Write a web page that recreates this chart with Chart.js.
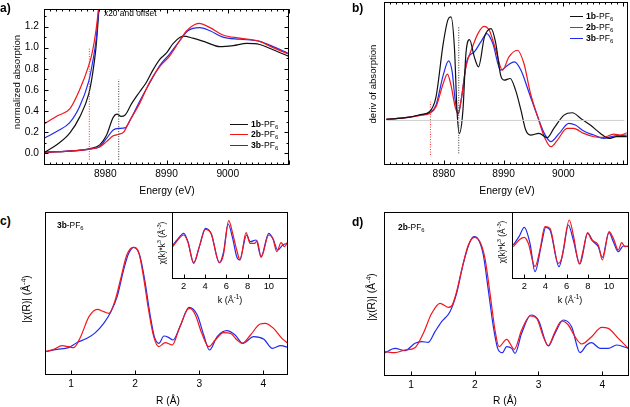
<!DOCTYPE html>
<html>
<head>
<meta charset="utf-8">
<script src="https://cdn.jsdelivr.net/npm/chart.js@4.4.1/dist/chart.umd.min.js"></script>
<style>
  body { margin: 0; background: #fff; }
  #fig { position: relative; width: 630px; height: 407px; overflow: hidden;
         font-family: "Liberation Sans", Arial, sans-serif; color: #000; }
  canvas { position: absolute; }
  .t { position: absolute; white-space: nowrap; line-height: 1; transform: translateY(-50%); }
  .c { transform: translate(-50%, -50%); }
  .r { transform: translate(-50%, -50%) rotate(-90deg); }
  sub, sup { font-size: 70%; line-height: 0; }
  .lg { position: absolute; width: 18px; height: 0; border-top: 1.4px solid; }
</style>
</head>
<body>
<div id="fig">
  <canvas id="chA"></canvas>
  <canvas id="chB"></canvas>
  <canvas id="chC"></canvas>
  <canvas id="chD"></canvas>
  <canvas id="chCi"></canvas>
  <canvas id="chDi"></canvas>

  <div class="t" style="left:0;top:8px;font-size:12px;font-weight:bold">a)</div>
  <div class="t" style="left:352px;top:8px;font-size:12px;font-weight:bold">b)</div>
  <div class="t" style="left:0;top:221px;font-size:12px;font-weight:bold">c)</div>
  <div class="t" style="left:352px;top:222px;font-size:12px;font-weight:bold">d)</div>

  <div class="t r" style="left:17px;top:82px;font-size:9.6px">normalized absorption</div>
  <div class="t r" style="left:373px;top:84px;font-size:9.6px">deriv of absorption</div>
  <div class="t r" style="left:27px;top:299px;font-size:10.2px">|χ(R)| (Å<sup>-4</sup>)</div>
  <div class="t r" style="left:372px;top:297px;font-size:10.2px">|χ(R)| (Å<sup>-4</sup>)</div>
  <div class="t r" style="left:163px;top:243px;font-size:8.2px">χ(k)*k<sup>3</sup> (Å<sup>-3</sup>)</div>
  <div class="t r" style="left:503px;top:242px;font-size:8.2px">χ(k)*k<sup>3</sup> (Å<sup>-3</sup>)</div>

  <div class="t c" style="left:167px;top:191px;font-size:10.4px">Energy (eV)</div>
  <div class="t c" style="left:507px;top:191px;font-size:10.4px">Energy (eV)</div>
  <div class="t c" style="left:168px;top:401px;font-size:10.2px">R (Å)</div>
  <div class="t c" style="left:505px;top:401px;font-size:10.2px">R (Å)</div>
  <div class="t c" style="left:230px;top:300px;font-size:9px">k (Å<sup>-1</sup>)</div>
  <div class="t c" style="left:570px;top:300px;font-size:9px">k (Å<sup>-1</sup>)</div>

  <div class="t" style="left:104px;top:13px;font-size:8.4px">x20 and offset</div>
  <div class="t" style="left:57px;top:225px;font-size:8.4px"><b>3b</b>-PF<sub>6</sub></div>
  <div class="t" style="left:398px;top:227px;font-size:8.4px"><b>2b</b>-PF<sub>6</sub></div>

  <div class="lg" style="left:230px;top:124px;border-color:#111"></div>
  <div class="t" style="left:251px;top:124px;font-size:8.6px"><b>1b</b>-PF<sub>6</sub></div>
  <div class="lg" style="left:230px;top:134px;border-color:#f2161b"></div>
  <div class="t" style="left:251px;top:134px;font-size:8.6px"><b>2b</b>-PF<sub>6</sub></div>
  <div class="lg" style="left:230px;top:145px;border-color:#1f2cf0"></div>
  <div class="t" style="left:251px;top:145px;font-size:8.6px"><b>3b</b>-PF<sub>6</sub></div>

  <div class="lg" style="left:570px;top:16px;border-color:#111;width:13px"></div>
  <div class="t" style="left:586px;top:16px;font-size:8.6px"><b>1b</b>-PF<sub>6</sub></div>
  <div class="lg" style="left:570px;top:27px;border-color:#f2161b;width:13px"></div>
  <div class="t" style="left:586px;top:27px;font-size:8.6px"><b>2b</b>-PF<sub>6</sub></div>
  <div class="lg" style="left:570px;top:38px;border-color:#1f2cf0;width:13px"></div>
  <div class="t" style="left:586px;top:38px;font-size:8.6px"><b>3b</b>-PF<sub>6</sub></div>
</div>
<script>
const BLACK = '#111', RED = '#f2161b', BLUE = '#1f2cf0';
const FONT = '"Liberation Sans", Arial, sans-serif';

// ---- panel a: normalized absorption ----
const aXTicks = ['8980', '8990', '9000'];
const aYTicks = ['0.0', '0.2', '0.4', '0.6', '0.8', '1.0', '1.2'];
const aE_1b = [8970.1, 8972, 8974, 8976, 8977.5, 8979.1, 8980.2, 8981.3, 8981.9, 8982.6, 8983.2, 8984.3, 8985.6, 8986.7, 8987.8, 8988.9, 8990.0, 8991.1, 8992.7, 8994.3, 8996.5, 8998.7, 9000.9, 9003.1, 9005.2, 9007.4, 9009.9];
const aY_1b = [0.01, 0.015, 0.02, 0.03, 0.045, 0.08, 0.17, 0.34, 0.37, 0.35, 0.36, 0.47, 0.58, 0.67, 0.79, 0.89, 0.95, 1.04, 1.11, 1.09, 1.05, 1.01, 1.02, 1.04, 1.03, 0.98, 0.92];
const aE_2b = [8970.1, 8974, 8977.5, 8979.1, 8980.2, 8981.3, 8982.2, 8983.0, 8984.0, 8985.6, 8987.3, 8988.9, 8990.5, 8992.2, 8993.3, 8995.3, 8997.1, 8999.2, 9002.0, 9005.2, 9007.4, 9009.9];
const aY_2b = [0.01, 0.02, 0.04, 0.06, 0.11, 0.165, 0.18, 0.20, 0.31, 0.47, 0.68, 0.82, 0.92, 1.07, 1.16, 1.23, 1.19, 1.12, 1.09, 1.06, 1.00, 0.94];
const aE_3b = [8970.1, 8974, 8977.5, 8979.1, 8980.2, 8981.3, 8982.2, 8983.2, 8984.3, 8985.6, 8987.3, 8988.9, 8990.5, 8992.2, 8993.5, 8995.4, 8997.1, 8999.2, 9002.0, 9005.2, 9007.4, 9009.9];
const aY_3b = [0.01, 0.02, 0.04, 0.065, 0.14, 0.22, 0.235, 0.24, 0.34, 0.49, 0.67, 0.83, 0.94, 1.07, 1.16, 1.19, 1.16, 1.10, 1.08, 1.06, 1.01, 0.945];
// pre-edge x20 and offset
const aEx = [8970.1, 8972.2, 8974.2, 8975.8, 8977.3, 8977.9, 8978.5, 8978.9, 8979.2];
const aYx_1b = [0.01, 0.085, 0.19, 0.34, 0.56, 0.74, 1.01, 1.31, 1.55];
const aYx_2b = [0.28, 0.355, 0.42, 0.60, 0.83, 0.96, 1.17, 1.37, 1.55];
const aYx_3b = [0.145, 0.21, 0.29, 0.44, 0.68, 0.85, 1.07, 1.34, 1.55];
const aMarkRed = [8977.4, -0.06, 1.0];
const aMarkBlack = [8982.2, -0.06, 0.70];

// ---- panel b: derivative ----
const bXTicks = ['8980', '8990', '9000'];
const bE_1b = [8970.4, 8974.0, 8976.3, 8977.6, 8978.7, 8979.9, 8980.7, 8981.2, 8981.8, 8982.2, 8982.6, 8983.2, 8983.7, 8984.3, 8985.1, 8985.8, 8986.8, 8987.9, 8988.7, 8989.5, 8990.1, 8991.1, 8992.0, 8992.9, 8993.7, 8994.5, 8995.9, 8997.3, 8998.4, 9000.1, 9001.5, 9002.9, 9004.5, 9006.2, 9007.6, 9008.9, 9010.6];
const bY_1b = [0.03, 0.09, 0.18, 0.26, 0.71, 2.31, 3.03, 3.11, 2.11, 0.31, -0.39, 0.31, 2.01, 2.43, 1.91, 1.61, 2.51, 2.76, 2.31, 1.36, 1.21, 1.26, 0.91, 0.31, -0.29, -0.44, -0.39, -0.52, -0.24, 0.16, 0.23, 0.06, -0.14, -0.39, -0.54, -0.49, -0.49];
const bE_2b = [8970.4, 8974.0, 8976.3, 8977.6, 8978.7, 8979.9, 8980.6, 8981.2, 8981.9, 8982.4, 8982.9, 8983.7, 8984.8, 8985.7, 8986.7, 8987.6, 8988.7, 8989.8, 8990.9, 8992.3, 8993.4, 8994.5, 8995.7, 8996.8, 8997.9, 8999.0, 9000.6, 9001.7, 9003.4, 9005.1, 9006.7, 9008.4, 9009.5, 9010.6];
const bY_2b = [0.03, 0.09, 0.16, 0.21, 0.41, 1.11, 1.39, 1.06, 0.41, 0.21, 0.61, 1.61, 2.21, 2.61, 2.83, 2.71, 2.11, 1.51, 1.91, 2.11, 1.71, 0.81, 0.11, -0.49, -0.79, -0.59, -0.24, -0.24, -0.39, -0.49, -0.51, -0.41, -0.44, -0.37];
const bE_3b = [8970.4, 8974.0, 8976.3, 8977.6, 8978.7, 8979.9, 8980.8, 8981.4, 8981.9, 8982.4, 8982.9, 8983.9, 8985.1, 8986.2, 8987.2, 8988.2, 8989.5, 8990.7, 8991.8, 8992.9, 8994.3, 8995.7, 8996.8, 8997.9, 8999.3, 9000.9, 9002.0, 9003.4, 9005.1, 9006.7, 9008.4, 9010.6];
const bY_3b = [0.03, 0.09, 0.17, 0.23, 0.46, 1.36, 1.79, 1.46, 0.61, 0.19, 0.61, 1.81, 2.06, 2.36, 2.61, 2.31, 1.51, 1.66, 1.76, 1.51, 0.81, 0.11, -0.39, -0.64, -0.39, -0.09, -0.14, -0.32, -0.44, -0.54, -0.47, -0.44];
const bBase = [8970.4, 9010.2];
const bMarkRed = [8977.76, -1.04, 0.56];
const bMarkBlack = [8982.5, -0.99, 2.81];

// ---- panel c: 3b-PF6 |chi(R)| ----
const rTicks = ['1', '2', '3', '4'];
const cR_red = [0.6, 0.73, 0.86, 0.96, 1.04, 1.15, 1.28, 1.41, 1.51, 1.59, 1.69, 1.77, 1.87, 1.97, 2.06, 2.13, 2.21, 2.29, 2.37, 2.47, 2.58, 2.68, 2.81, 2.86, 2.94, 3.04, 3.15, 3.25, 3.38, 3.49, 3.59, 3.67, 3.80, 3.95, 4.03, 4.16, 4.29, 4.40];
const cY_red = [0.70, 0.77, 0.88, 0.85, 0.82, 1.15, 1.75, 1.97, 1.90, 1.85, 2.25, 2.85, 3.60, 3.83, 3.65, 2.95, 1.95, 1.15, 0.85, 0.97, 0.90, 1.35, 1.95, 2.00, 1.80, 1.25, 0.85, 1.05, 1.27, 1.25, 1.05, 0.95, 1.20, 1.53, 1.55, 1.40, 1.10, 0.93];
const cR_blue = [0.6, 0.78, 0.96, 1.09, 1.25, 1.38, 1.51, 1.61, 1.72, 1.82, 1.90, 1.98, 2.07, 2.15, 2.23, 2.30, 2.37, 2.45, 2.52, 2.59, 2.71, 2.84, 2.97, 3.07, 3.16, 3.28, 3.43, 3.56, 3.68, 3.85, 4.01, 4.14, 4.27, 4.40];
const cY_blue = [0.70, 0.77, 0.82, 0.97, 1.10, 1.27, 1.55, 1.85, 2.35, 3.15, 3.65, 3.83, 3.60, 2.85, 1.85, 1.15, 0.95, 1.17, 1.13, 1.05, 1.50, 2.03, 1.80, 1.20, 0.75, 1.15, 1.33, 1.20, 0.95, 1.15, 1.07, 0.80, 0.88, 0.82];

// ---- panel d: 2b-PF6 |chi(R)| ----
const dR_red = [0.593, 0.750, 0.906, 1.063, 1.194, 1.325, 1.455, 1.586, 1.638, 1.716, 1.795, 1.900, 1.994, 2.082, 2.161, 2.240, 2.318, 2.381, 2.501, 2.621, 2.736, 2.867, 2.971, 3.076, 3.154, 3.259, 3.363, 3.468, 3.572, 3.677, 3.834, 3.991, 4.095, 4.252, 4.409];
const dY_red = [0.72, 0.69, 0.77, 0.84, 1.27, 1.87, 2.17, 2.05, 2.09, 2.52, 3.17, 3.92, 4.15, 4.02, 3.52, 2.47, 1.37, 0.87, 1.09, 0.79, 1.37, 1.79, 1.72, 1.17, 0.90, 1.32, 1.64, 1.52, 1.17, 0.95, 1.17, 1.45, 1.42, 1.12, 0.82];
const dR_blue = [0.593, 0.750, 0.906, 1.063, 1.168, 1.272, 1.377, 1.481, 1.612, 1.716, 1.821, 1.926, 1.994, 2.067, 2.135, 2.213, 2.292, 2.360, 2.433, 2.501, 2.580, 2.632, 2.736, 2.883, 2.998, 3.154, 3.259, 3.390, 3.520, 3.651, 3.756, 3.834, 3.965, 4.095, 4.226, 4.409];
const dY_blue = [0.69, 0.82, 0.75, 0.97, 1.02, 1.00, 1.32, 1.62, 1.92, 2.47, 3.37, 4.02, 4.17, 4.05, 3.62, 2.57, 1.47, 0.82, 0.69, 0.87, 0.82, 0.67, 1.27, 1.82, 1.67, 0.89, 1.27, 1.67, 1.47, 0.69, 0.92, 0.99, 0.82, 0.82, 0.92, 0.82];

// ---- insets: chi(k)*k^3 ----
const kTicks = ['2', '4', '6', '8', '10'];
const ciK_red = [0.97, 1.44, 2.0, 2.38, 2.94, 3.47, 4.04, 4.57, 5.35, 5.73, 6.23, 6.6, 6.98, 7.3, 7.86, 8.24, 8.65, 8.9, 9.27, 9.99, 10.37, 10.75, 11.15, 11.47, 11.78];
const ciY_red = [0, 0.4, 0.7, 0.3, -0.96, 0, 1.04, 0.8, -0.96, -0.5, 1.56, 0.8, -0.2, -0.8, 0.84, 0.2, 0.2, 0.35, -0.64, 0.7, 0.5, -0.3, 0.24, 0, 0.3];
const ciK_blue = [0.97, 1.44, 2.0, 2.4, 2.94, 3.47, 4.04, 4.6, 5.35, 5.75, 6.17, 6.6, 6.98, 7.24, 7.92, 8.24, 8.8, 9.27, 9.99, 10.4, 10.84, 11.3, 11.78];
const ciY_blue = [0.1, 0.45, 0.8, 0.3, -1.0, 0, 1.1, 0.75, -0.96, -0.3, 1.36, 0.5, -0.6, -0.8, 0.7, 0.3, 0.4, -0.6, 0.8, 0.45, -0.2, 0.1, 0.2];
const diK_red = [0.96, 1.59, 2.0, 2.38, 3.01, 3.48, 3.95, 4.43, 5.21, 5.53, 6.25, 6.63, 7.2, 7.57, 7.98, 8.36, 8.99, 9.37, 10.0, 10.41, 10.88, 11.2, 11.51, 11.92];
const diY_red = [0, 0.44, 0.56, 0.2, -1.2, -0.2, 1.2, 1.1, -1.0, -0.7, 1.6, 0.7, -1.04, -0.2, 0.84, 0.4, 0.1, -0.8, 0.9, 0.5, -0.2, 0.24, 0, 0.04];
const diK_blue = [0.96, 1.5, 2.0, 2.54, 3.01, 3.64, 4.02, 4.43, 5.28, 5.7, 6.16, 6.63, 7.26, 7.98, 8.52, 8.99, 9.37, 10.0, 10.41, 10.88, 11.35, 11.92];
const diY_blue = [0.1, 0.6, 1.16, 0.2, -1.5, 0.2, 1.16, 1.0, -1.2, -0.2, 1.3, 0.4, -1.04, 0.8, 0.3, 0, -0.64, 0.84, 0.3, -0.3, 0.04, 0];

// inward ticks and box frame, Igor style
const framePlugin = {
  id: 'frame',
  afterDraw(chart, args, f) {
    const { ctx, chartArea: a, scales: { x, y } } = chart;
    const L = Math.round(a.left) + 0.5, R = Math.round(a.right) - 0.5;
    const T = Math.round(a.top) + 0.5, B = Math.round(a.bottom) - 0.5;
    ctx.save();
    ctx.strokeStyle = '#000';
    ctx.lineWidth = 1;
    ctx.strokeRect(L, T, R - L, B - T);
    ctx.beginPath();
    const marks = (sc, step, len, horiz) => {
      if (!step) return;
      for (let i = Math.ceil(sc.min / step - 1e-9); i * step <= sc.max + 1e-9; i++) {
        const p = Math.round(sc.getPixelForValue(i * step)) + 0.5;
        if (horiz) {
          ctx.moveTo(p, B); ctx.lineTo(p, B - len);
          if (f.top) { ctx.moveTo(p, T); ctx.lineTo(p, T + len); }
        } else {
          ctx.moveTo(L, p); ctx.lineTo(L + len, p);
          if (f.right) { ctx.moveTo(R, p); ctx.lineTo(R - len, p); }
        }
      }
    };
    marks(x, f.xMinor, 2, true);
    marks(x, f.xMajor, 4, true);
    marks(y, f.yMinor, 2, false);
    marks(y, f.yMajor, 4, false);
    ctx.stroke();
    ctx.restore();
  }
};

function line(xs, ys, color, extra) {
  return Object.assign({
    data: xs.map((x, i) => ({ x, y: ys[i] })),
    borderColor: color, borderWidth: 1.2, pointRadius: 0, fill: false,
    cubicInterpolationMode: 'monotone'
  }, extra || {});
}
function mark(m, color) {
  return line([m[0], m[0]], [m[1], m[2]], color, { borderWidth: 1, borderDash: [1, 1.5], cubicInterpolationMode: 'default' });
}

function makeChart(id, area, o) {
  const cv = document.getElementById(id);
  const left = area.l - o.yw, top = area.t - 3;
  cv.style.left = left + 'px';
  cv.style.top = top + 'px';
  cv.width = area.r - left + 3;
  cv.height = area.b - top + o.xh;
  const fmt = (v, d) => Number(v).toFixed(d);
  const tf = { family: FONT, size: o.tickSize || 10.2 };
  return new Chart(cv, {
    type: 'line',
    data: { datasets: o.sets },
    options: {
      responsive: false, animation: false, events: [],
      layout: { padding: { top: 3, right: 3, left: 0, bottom: 0 } },
      plugins: { legend: { display: false }, tooltip: { enabled: false }, frame: o.frame },
      scales: {
        x: {
          type: 'linear', min: o.xMin, max: o.xMax,
          grid: { display: false, drawTicks: false }, border: { display: false },
          ticks: {
            stepSize: o.xStep, includeBounds: false, autoSkip: false, maxRotation: 0,
            padding: o.xPad, color: '#000', font: tf,
            callback: v => o.xLabels.includes(fmt(v, 0)) ? fmt(v, 0) : ''
          },
          afterFit: s => { s.height = o.xh; }
        },
        y: {
          type: 'linear', min: o.yMin, max: o.yMax,
          grid: { display: false, drawTicks: false }, border: { display: false },
          ticks: {
            display: !!o.yLabels, stepSize: o.yStep || 1, includeBounds: false, autoSkip: false,
            padding: 5, color: '#000', font: tf,
            callback: v => (o.yLabels && o.yLabels.includes(fmt(v, 1))) ? fmt(v, 1) : ''
          },
          afterFit: s => { s.width = o.yw; }
        }
      }
    },
    plugins: [framePlugin]
  });
}

makeChart('chA', { l: 44, t: 1, r: 289, b: 165 }, {
  yw: 44, xh: 35, xMin: 8970, xMax: 9010, yMin: -0.111, yMax: 1.365,
  xStep: 10, xLabels: aXTicks, xPad: 3, yStep: 0.2, yLabels: aYTicks,
  frame: { xMajor: 10, xMinor: 1, yMajor: 0.2, yMinor: 0.1, top: true, right: true },
  sets: [
    mark(aMarkRed, '#f03030'), mark(aMarkBlack, '#333'),
    line(aEx, aYx_2b, RED), line(aEx, aYx_3b, BLUE), line(aEx, aYx_1b, BLACK),
    line(aE_2b, aY_2b, RED), line(aE_3b, aY_3b, BLUE), line(aE_1b, aY_1b, BLACK)
  ]
});

makeChart('chB', { l: 384, t: 2, r: 628, b: 165 }, {
  yw: 30, xh: 35, xMin: 8970, xMax: 9010.8, yMin: -1.34, yMax: 3.56,
  xStep: 10, xLabels: bXTicks, xPad: 3,
  frame: { xMajor: 10, xMinor: 1, top: true },
  sets: [
    line(bBase, [0, 0], '#cfcfcf', { borderWidth: 1 }),
    mark(bMarkRed, '#f03030'), mark(bMarkBlack, '#333'),
    line(bE_1b, bY_1b, BLACK), line(bE_2b, bY_2b, RED), line(bE_3b, bY_3b, BLUE)
  ]
});

makeChart('chC', { l: 45, t: 212, r: 288, b: 375 }, {
  yw: 30, xh: 30, xMin: 0.594, xMax: 4.385, yMin: 0, yMax: 4.89,
  xStep: 1, xLabels: rTicks, xPad: 3,
  frame: { xMajor: 1 },
  sets: [line(cR_red, cY_red, RED), line(cR_blue, cY_blue, BLUE)]
});

makeChart('chD', { l: 384, t: 212, r: 629, b: 376 }, {
  yw: 30, xh: 30, xMin: 0.577, xMax: 4.42, yMin: -0.01, yMax: 4.91,
  xStep: 1, xLabels: rTicks, xPad: 3,
  frame: { xMajor: 1 },
  sets: [line(dR_red, dY_red, RED), line(dR_blue, dY_blue, BLUE)]
});

makeChart('chCi', { l: 172, t: 212, r: 288, b: 279 }, {
  yw: 2, xh: 20, xMin: 0.9, xMax: 11.8, yMin: -1.94, yMax: 2.08,
  xStep: 2, xLabels: kTicks, xPad: 2, tickSize: 9.4,
  frame: { xMajor: 2 },
  sets: [line(ciK_red, ciY_red, RED), line(ciK_blue, ciY_blue, BLUE)]
});

makeChart('chDi', { l: 512, t: 212, r: 629, b: 279 }, {
  yw: 2, xh: 20, xMin: 0.84, xMax: 11.89, yMin: -1.94, yMax: 2.08,
  xStep: 2, xLabels: kTicks, xPad: 2, tickSize: 9.4,
  frame: { xMajor: 2 },
  sets: [line(diK_red, diY_red, RED), line(diK_blue, diY_blue, BLUE)]
});
</script>
</body>
</html>
